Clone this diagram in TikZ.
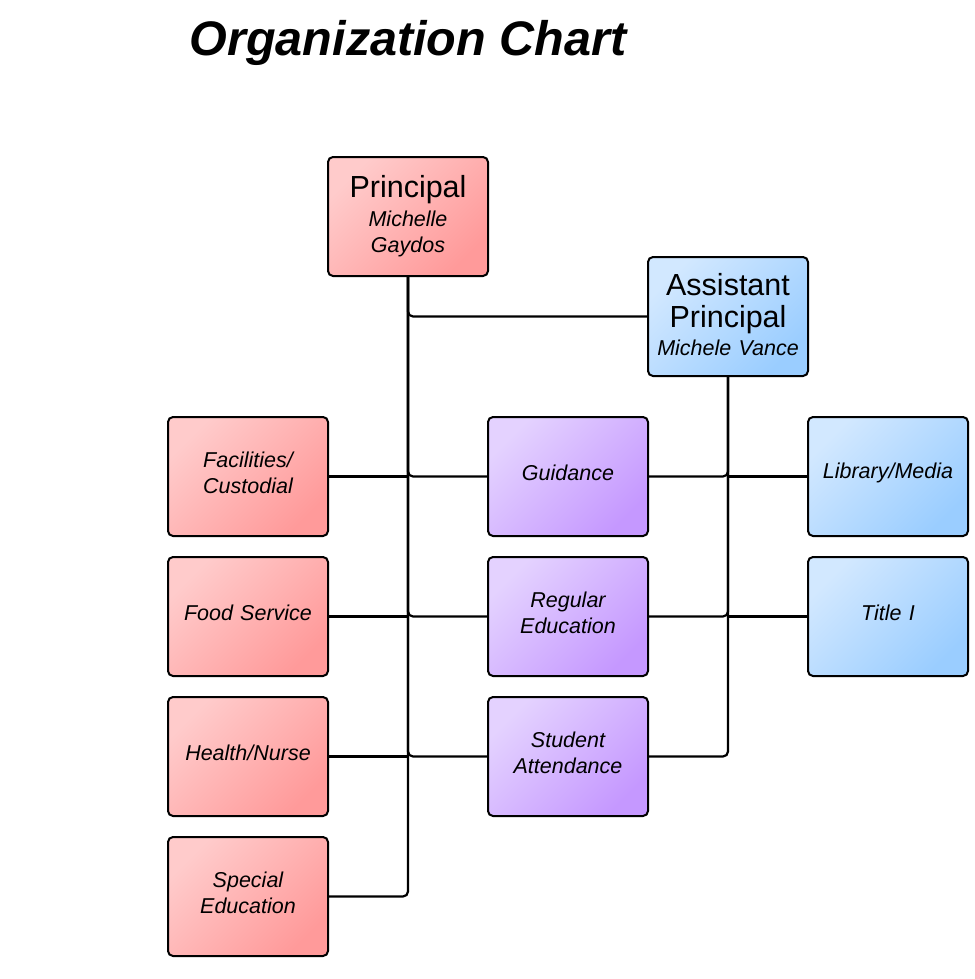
\documentclass[tikz,border=0pt]{standalone}
\usepackage{fontspec}
\setmainfont{Liberation Sans}
\definecolor{redL}{HTML}{FFCBCB}
\definecolor{redD}{HTML}{FF9A9A}
\definecolor{bluL}{HTML}{D2E8FF}
\definecolor{bluD}{HTML}{9ACDFF}
\definecolor{purL}{HTML}{E4D2FF}
\definecolor{purD}{HTML}{C598FF}
\newcommand{\rolefont}{\fontsize{30.5}{32}\selectfont\upshape}
\begin{document}
\begin{tikzpicture}[x=1pt,y=-1pt,
  box/.style={draw=black, line width=2pt, rounded corners=5pt,
    minimum width=160pt, minimum height=119pt, inner sep=2pt,
    align=center, text width=156pt, font=\fontsize{21.5}{26}\selectfont\itshape},
  lift/.style={execute at end node={\endgraf\nointerlineskip\vbox to #1{}}},
  redbox/.style={box, left color=redL, right color=redD, shading angle=45},
  bluebox/.style={box, left color=bluL, right color=bluD, shading angle=45},
  purplebox/.style={box, left color=purL, right color=purD, shading angle=45},
  conn/.style={draw=black, line width=2.2pt, rounded corners=5pt}
]
\useasboundingbox (0,0) rectangle (974,979);

% title
\node (title) at (408,43) {\fontsize{48.5}{52}\selectfont\bfseries\itshape Organization Chart};

% leadership
\node[redbox] (P) at (408,216.5) {{\rolefont Principal}\\[3pt]Michelle\\Gaydos};
\node[bluebox, lift=4pt] (AP) at (728,316.5) {{\rolefont Assistant}\\[6pt]{\rolefont Principal}\\[2pt]Michele Vance};

% left column
\node[redbox, lift=8pt] (F) at (248,476.5) {Facilities/\\Custodial};
\node[redbox, lift=8pt] (FS) at (248,616.5) {Food Service};
\node[redbox, lift=8pt] (H) at (248,756.5) {Health/Nurse};
\node[redbox, lift=8pt] (SE) at (248,896.5) {Special\\Education};

% middle column
\node[purplebox, lift=8pt] (G) at (568,476.5) {Guidance};
\node[purplebox, lift=8pt] (RE) at (568,616.5) {Regular\\Education};
\node[purplebox, lift=8pt] (SA) at (568,756.5) {Student\\Attendance};

% right column
\node[bluebox, lift=8pt] (LM) at (888,476.5) {Library/Media};
\node[bluebox, lift=8pt] (T) at (888,616.5) {Title I};

% principal connectors
\draw[conn] (P.south) |- (AP.west);
\draw[conn] (P.south) |- (G.west);
\draw[conn] (P.south) |- (RE.west);
\draw[conn] (P.south) |- (SA.west);
\draw[conn] (P.south) |- (SE.east);
\draw[conn] (F.east) -- (F.east -| P.south);
\draw[conn] (FS.east) -- (FS.east -| P.south);
\draw[conn] (H.east) -- (H.east -| P.south);

% assistant principal connectors
\draw[conn] (AP.south) |- (G.east);
\draw[conn] (AP.south) |- (RE.east);
\draw[conn] (AP.south) |- (SA.east);
\draw[conn] (LM.west) -- (LM.west -| AP.south);
\draw[conn] (T.west) -- (T.west -| AP.south);
\end{tikzpicture}
\end{document}
